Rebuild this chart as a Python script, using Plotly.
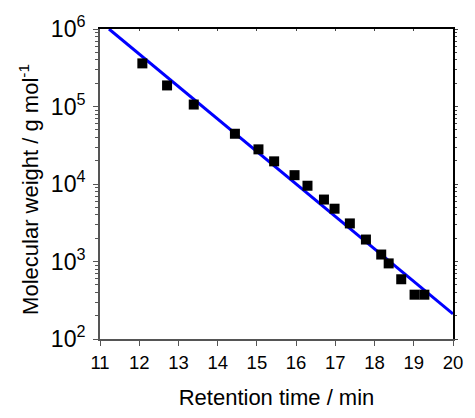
import plotly.graph_objects as go

retention_time = [12.08, 12.71, 13.39, 14.44, 15.04, 15.44, 15.96, 16.29, 16.71, 16.98,
                  17.37, 17.78, 18.17, 18.36, 18.68, 19.02, 19.27]
molecular_weight = [3.6e5, 1.87e5, 1.06e5, 4.45e4, 2.8e4, 1.96e4, 1.30e4, 9.5e3, 6.3e3, 4.8e3,
                    3.1e3, 1.92e3, 1.23e3, 945, 590, 373, 373]
fit_time = [11.23, 20.0]
fit_mw = [1.0e6, 211]

x_ticks = list(range(11, 21))

font_family = "Liberation Sans, Arial, sans-serif"
axis_gray = "#555555"

fig = go.Figure()
fig.add_trace(go.Scatter(x=fit_time, y=fit_mw, mode="lines",
                         line=dict(color="#0000FF", width=3), showlegend=False))
fig.add_trace(go.Scatter(x=retention_time, y=molecular_weight, mode="markers",
                         marker=dict(symbol="square", size=10, color="black"),
                         showlegend=False))

fig.update_layout(
    width=475, height=418,
    margin=dict(l=100, r=13, t=25, b=69),
    plot_bgcolor="white", paper_bgcolor="white",
    font=dict(family=font_family, size=18, color="black"),
    xaxis=dict(range=[11, 20], tickvals=x_ticks, ticks="outside", ticklen=5,
               tickcolor=axis_gray, showline=True, linecolor=axis_gray, linewidth=1.5,
               showgrid=False, zeroline=False, tickfont=dict(size=18.5),
               ticklabelstandoff=1,
               title=dict(text="Retention time / min", font=dict(size=22), standoff=18)),
    yaxis=dict(type="log", range=[2, 6], dtick=1, exponentformat="power",
               ticks="outside", ticklen=5, tickcolor=axis_gray,
               minor=dict(ticks="outside", ticklen=3, dtick="D1", tickcolor=axis_gray),
               showline=True, linecolor=axis_gray, linewidth=1.5,
               showgrid=False, zeroline=False, tickfont=dict(size=18.5),
               ticklabelstandoff=4),
    xaxis2=dict(range=[11, 20], overlaying="x", side="top", tickvals=x_ticks,
                ticks="inside", ticklen=2, tickcolor="#444444", showticklabels=False,
                showline=True, linecolor="black", linewidth=1.5, showgrid=False, zeroline=False),
    yaxis2=dict(type="log", range=[2, 6], overlaying="y", side="right", dtick=1,
                ticks="outside", ticklen=3, tickcolor="#444444", showticklabels=False,
                minor=dict(ticks="outside", ticklen=2, dtick="D1", tickcolor="#444444"),
                showline=True, linecolor="black", linewidth=1.5, showgrid=False, zeroline=False),
)
# y-axis title placed as a rotated annotation
fig.add_annotation(text="Molecular weight / g mol<sup>-1</sup>", textangle=-90,
                   xref="paper", yref="paper", x=0, y=0.481, xshift=-71,
                   xanchor="center", yanchor="middle", showarrow=False,
                   font=dict(size=22, family=font_family, color="black"))
# invisible trace to activate the mirrored axes
fig.add_trace(go.Scatter(x=[15], y=[1000], xaxis="x2", yaxis="y2", mode="markers",
                         marker=dict(opacity=0), showlegend=False, hoverinfo="skip"))

fig.write_html("out.html", config={"displayModeBar": False},
               post_script="document.body.style.margin='0';document.body.style.overflow='hidden';")
